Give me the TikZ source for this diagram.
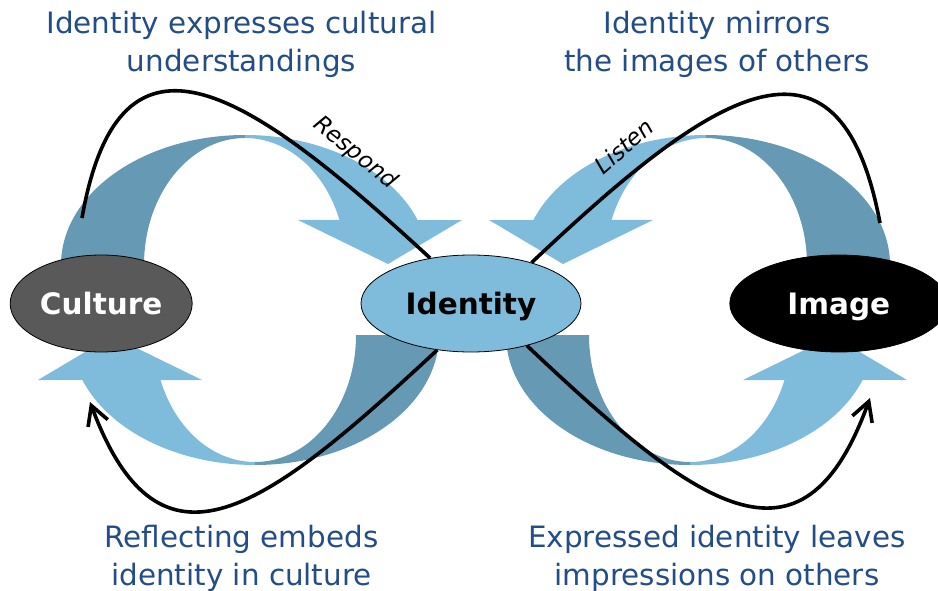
\documentclass[tikz,border=0pt]{standalone}
\usepackage{fontspec}
\setmainfont{DejaVu Sans}
\usepackage{tikz}
\usetikzlibrary{arrows.meta,shapes,positioning,calc}
\definecolor{cyclelight}{RGB}{127,188,219}
\definecolor{cycledark}{RGB}{102,153,179}
\definecolor{culturegray}{RGB}{89,89,89}
\definecolor{labelblue}{RGB}{35,77,135}

% one turning arrow, drawn for the upper left position
\newcommand{\uturnarrow}{%
    \fill[cycledark] (61,-265) arc[start angle=180, end angle=90, x radius=184, y radius=130]
        -- (245,-138) arc[start angle=90, end angle=180, x radius=101, y radius=127] -- cycle;
    \fill[cyclelight] (245,-135) arc[start angle=90, end angle=20.25, x radius=184, y radius=130]
        -- (462,-220) -- (388,-264) -- (298,-220) -- (339.5,-220)
        arc[start angle=20.75, end angle=90, x radius=101, y radius=127] -- cycle;
}

\begin{document}
\begin{tikzpicture}[
    x=1pt, y=1pt,
    stage/.style={ellipse, draw=black, line width=0.8pt, minimum height=97pt, inner sep=0pt, text height=22pt, text depth=0pt, font=\fontsize{29.5}{36}\selectfont\bfseries},
    caption/.style={align=center, text=labelblue, inner sep=0pt, font=\fontsize{29.4}{38}\selectfont},
    action/.style={inner sep=0pt, font=\fontsize{23}{26}\selectfont\itshape},
    track/.style={draw=black, line width=3.6pt},
    headed/.style={-{Straight Barb[length=19pt,width=21pt]}}
]
    \useasboundingbox (0,0) rectangle (938,-591);

    % turning arrows
    \uturnarrow
    \begin{scope}[shift={(951,0)}, xscale=-1]
        \uturnarrow
    \end{scope}
    \begin{scope}[rotate around={180:(250,-300)}]
        \uturnarrow
    \end{scope}
    \begin{scope}[shift={(445,-600)}, yscale=-1]
        \uturnarrow
    \end{scope}

    % Concepts
    \node[stage, fill=cyclelight, minimum width=220pt] (identity) at (471,-303.5) {Identity};
    \node[stage, fill=culturegray, text=white, minimum width=182pt, left=168pt of identity] (culture) {Culture};
    \node[stage, fill=black, text=white, minimum width=218pt, right=148pt of identity] (image) {Image};

    % Captions
    \node[caption, anchor=base] (expresses) at (241.5,-72) {Identity expresses cultural\\understandings};
    \node[caption, anchor=base] (mirrors) at (717,-72) {Identity mirrors\\the images of others};
    \node[caption, anchor=base] (reflecting) at (241.5,-585) {Reflecting embeds\\identity in culture};
    \node[caption, anchor=base] (impressions) at (717,-585) {Expressed identity leaves\\impressions on others};

    % Loop ends
    \coordinate (cultop) at (82,-218);
    \coordinate (imgtop) at (880,-223);
    \coordinate (culbot) at (90,-402);
    \coordinate (imgbot) at (870,-398);

    \draw[track] (cultop) .. controls (120,-2) and (250,-92) .. (identity.132);
    \draw[track] (identity.34) .. controls (709,-95) and (839,-5) .. (imgtop);
    \draw[track, headed] (identity.234) .. controls (265,-510) and (160,-590) .. (culbot);
    \draw[track, headed] (identity.323) .. controls (697,-506) and (802,-586) .. (imgbot);

    \node[action, rotate=-39] (respond) at (355,-153) {Respond};
    \node[action, rotate=41] (listen) at (624,-146) {Listen};
\end{tikzpicture}
\end{document}
